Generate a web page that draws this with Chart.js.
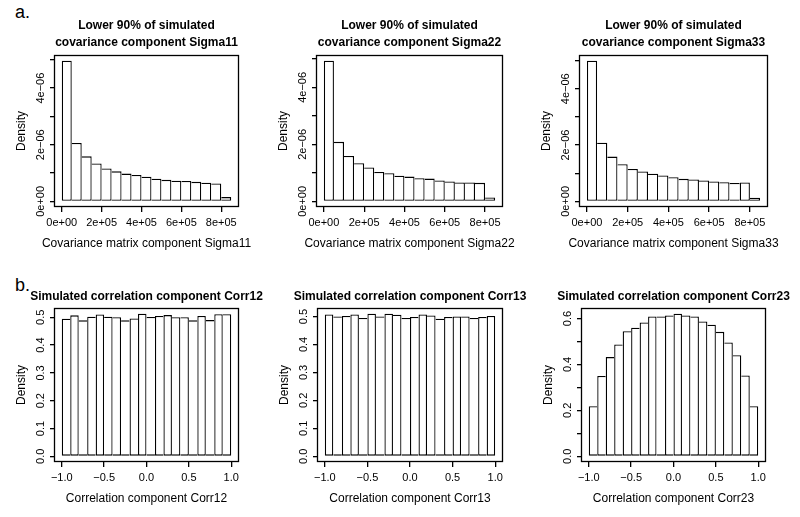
<!DOCTYPE html>
<html lang="en">
<head>
<meta charset="UTF-8">
<title>Simulated covariance and correlation components</title>
<script src="https://cdn.jsdelivr.net/npm/chart.js@4"></script>
<style>
    body { margin: 0; background: #fff; }
    #fig {
        position: relative;
        width: 800px;
        height: 517px;
        overflow: hidden;
        font-family: "Liberation Sans", Arial, sans-serif;
    }
    #fig canvas { position: absolute; }
    .tag { position: absolute; font-size: 18px; line-height: 18px; color: #000; }
</style>
</head>
<body>
<div id="fig">
    <div class="tag" style="left:15px;top:3px">a.</div>
    <div class="tag" style="left:15px;top:276px">b.</div>
</div>
<script>
// histogram bin midpoints
const sigmaMids = [25000, 75000, 125000, 175000, 225000, 275000, 325000, 375000, 425000,
    475000, 525000, 575000, 625000, 675000, 725000, 775000, 825000];
const corrMids = [-0.95, -0.85, -0.75, -0.65, -0.55, -0.45, -0.35, -0.25, -0.15, -0.05,
    0.05, 0.15, 0.25, 0.35, 0.45, 0.55, 0.65, 0.75, 0.85, 0.95];

// densities
const sigma11 = [4.97e-6, 2.06e-6, 1.59e-6, 1.34e-6, 1.16e-6, 1.06e-6, 0.98e-6, 0.93e-6, 0.87e-6,
    0.80e-6, 0.76e-6, 0.73e-6, 0.72e-6, 0.69e-6, 0.66e-6, 0.63e-6, 0.15e-6];
const sigma22 = [4.94e-6, 2.09e-6, 1.59e-6, 1.34e-6, 1.19e-6, 1.03e-6, 0.99e-6, 0.90e-6, 0.87e-6,
    0.81e-6, 0.80e-6, 0.73e-6, 0.70e-6, 0.66e-6, 0.66e-6, 0.65e-6, 0.14e-6];
const sigma33 = [5.00e-6, 2.08e-6, 1.59e-6, 1.32e-6, 1.15e-6, 1.06e-6, 0.98e-6, 0.92e-6, 0.86e-6,
    0.80e-6, 0.78e-6, 0.74e-6, 0.71e-6, 0.68e-6, 0.65e-6, 0.67e-6, 0.13e-6];
const corr12 = [0.495, 0.507, 0.489, 0.502, 0.510, 0.502, 0.500, 0.489, 0.496, 0.513,
    0.501, 0.505, 0.508, 0.500, 0.500, 0.489, 0.505, 0.490, 0.511, 0.511];
const corr13 = [0.507, 0.500, 0.502, 0.507, 0.495, 0.510, 0.500, 0.510, 0.506, 0.495,
    0.498, 0.507, 0.504, 0.492, 0.498, 0.500, 0.500, 0.495, 0.498, 0.502];
const corr23 = [0.218, 0.350, 0.432, 0.487, 0.545, 0.560, 0.583, 0.609, 0.609, 0.613,
    0.621, 0.613, 0.609, 0.587, 0.573, 0.542, 0.496, 0.440, 0.352, 0.218];

// tick positions and labels (R drops the labels that would overlap)
const sigmaXTicks = [0, 200000, 400000, 600000, 800000];
const sigmaXLabels = ['0e+00', '2e+05', '4e+05', '6e+05', '8e+05'];
const sigmaYTicks = [0, 1e-6, 2e-6, 3e-6, 4e-6, 5e-6];
const sigmaYLabels = ['0e+00', '', '2e\u221206', '', '4e\u221206', ''];
const corrXTicks = [-1, -0.5, 0, 0.5, 1];
const corrXLabels = ['\u22121.0', '\u22120.5', '0.0', '0.5', '1.0'];
const corrYTicks = [0, 0.1, 0.2, 0.3, 0.4, 0.5];
const corrYLabels = ['0.0', '0.1', '0.2', '0.3', '0.4', '0.5'];
const corr23YTicks = [0, 0.1, 0.2, 0.3, 0.4, 0.5, 0.6];
const corr23YLabels = ['0.0', '', '0.2', '', '0.4', '', '0.6'];

Chart.defaults.font.family = '"Liberation Sans", Arial, sans-serif';
Chart.defaults.color = '#000';

const LINE = 1.3; // stroke weight of bars, box and ticks

// plot box like R's box()
const boxPlugin = {
    id: 'rbox',
    afterDraw(chart) {
        const a = chart.chartArea;
        const ctx = chart.ctx;
        ctx.save();
        ctx.strokeStyle = '#000';
        ctx.lineWidth = LINE;
        ctx.strokeRect(Math.round(a.left) - 0.5, Math.round(a.top) + 0.5,
            Math.round(a.right - a.left) + 1, Math.round(a.bottom - a.top) - 1);
        ctx.restore();
    }
};

const panels = [
    { L: 55, R: 238, T: 55, B: 207, rowTop: 0, rowH: 258, titleY: 26,
      title: ['Lower 90% of simulated', 'covariance component Sigma11'],
      xTitle: 'Covariance matrix component Sigma11',
      mids: sigmaMids, vals: sigma11,
      xTicks: sigmaXTicks, xLabels: sigmaXLabels, yTicks: sigmaYTicks, yLabels: sigmaYLabels, yPad: -6 },
    { L: 317, R: 502, T: 55, B: 207, rowTop: 0, rowH: 258, titleY: 26,
      title: ['Lower 90% of simulated', 'covariance component Sigma22'],
      xTitle: 'Covariance matrix component Sigma22',
      mids: sigmaMids, vals: sigma22,
      xTicks: sigmaXTicks, xLabels: sigmaXLabels, yTicks: sigmaYTicks, yLabels: sigmaYLabels, yPad: -6 },
    { L: 580, R: 767, T: 55, B: 207, rowTop: 0, rowH: 258, titleY: 26,
      title: ['Lower 90% of simulated', 'covariance component Sigma33'],
      xTitle: 'Covariance matrix component Sigma33',
      mids: sigmaMids, vals: sigma33,
      xTicks: sigmaXTicks, xLabels: sigmaXLabels, yTicks: sigmaYTicks, yLabels: sigmaYLabels, yPad: -6 },
    { L: 55, R: 238, T: 308, B: 462, rowTop: 258, rowH: 259, titleY: 297,
      title: ['Simulated correlation component Corr12'],
      xTitle: 'Correlation component Corr12',
      mids: corrMids, vals: corr12,
      xTicks: corrXTicks, xLabels: corrXLabels, yTicks: corrYTicks, yLabels: corrYLabels, yPad: 1 },
    { L: 318, R: 502, T: 308, B: 462, rowTop: 258, rowH: 259, titleY: 297,
      title: ['Simulated correlation component Corr13'],
      xTitle: 'Correlation component Corr13',
      mids: corrMids, vals: corr13,
      xTicks: corrXTicks, xLabels: corrXLabels, yTicks: corrYTicks, yLabels: corrYLabels, yPad: 1 },
    { L: 582, R: 765, T: 308, B: 462, rowTop: 258, rowH: 259, titleY: 297,
      title: ['Simulated correlation component Corr23'],
      xTitle: 'Correlation component Corr23',
      mids: corrMids, vals: corr23,
      xTicks: corrXTicks, xLabels: corrXLabels, yTicks: corr23YTicks, yLabels: corr23YLabels, yPad: 1 }
];

const SIDE = 38;        // blank canvas margin each side
const Y_AXIS_W = 41;    // room for y ticks + "Density" (mirrored on the right)
const X_TICK_H = 24;    // room for x ticks and their labels
const X_TITLE_GAP = 37; // box bottom -> centre of x title
const TITLE_LH = 16.8;
const XT_LH = 14.4;

const fig = document.getElementById('fig');

panels.forEach(p => {
    // canvas is symmetric around the plot box so titles centre on it
    const W = (p.R - p.L) + 2 * (Y_AXIS_W + SIDE);
    const cl = p.L - Y_AXIS_W - SIDE;
    const canvas = document.createElement('canvas');
    canvas.width = W;
    canvas.height = p.rowH;
    canvas.style.left = cl + 'px';
    canvas.style.top = p.rowTop + 'px';
    fig.appendChild(canvas);

    // R style axis ranges: data range stretched by 4%
    const half = (p.mids[1] - p.mids[0]) / 2;
    const xlo = p.mids[0] - half;
    const xhi = p.mids[p.mids.length - 1] + half;
    const xpad = 0.04 * (xhi - xlo);
    const ymax = Math.max(...p.vals);

    const titleTop = p.titleY - p.rowTop - TITLE_LH / 2;
    const titleBottom = (p.T - p.rowTop) - titleTop - TITLE_LH * p.title.length;
    const xtTop = X_TITLE_GAP - X_TICK_H - XT_LH / 2;
    const padBottom = p.rowH - (p.B - p.rowTop) - X_TICK_H - xtTop - XT_LH;

    const vals = p.vals;
    new Chart(canvas, {
        type: 'bar',
        data: {
            datasets: [{
                data: p.mids.map((m, i) => ({ x: m, y: vals[i] })),
                backgroundColor: '#fff',
                borderColor: '#000',
                borderSkipped: false,
                inflateAmount: 0,
                barPercentage: 1,
                categoryPercentage: 1,
                // draw each shared edge once, from the taller bar
                borderWidth: ctx => {
                    const i = ctx.dataIndex;
                    const v = vals[i], prev = vals[i - 1], next = vals[i + 1];
                    return {
                        top: LINE, bottom: LINE,
                        left: (prev === undefined || v > prev) ? LINE : 0,
                        right: (next === undefined || v >= next) ? LINE : 0
                    };
                }
            }]
        },
        options: {
            responsive: false,
            animation: false,
            events: [],
            layout: {
                padding: { left: SIDE, right: SIDE, top: 0, bottom: padBottom }
            },
            plugins: {
                legend: { display: false },
                tooltip: { enabled: false },
                title: {
                    display: true,
                    text: p.title,
                    color: '#000',
                    font: { size: 12, weight: 'bold', lineHeight: 1.4 },
                    padding: { top: titleTop, bottom: titleBottom }
                },
                // x axis title, full canvas width so it is not squeezed
                subtitle: {
                    display: true,
                    position: 'bottom',
                    text: p.xTitle,
                    color: '#000',
                    font: { size: 12, weight: 'normal', lineHeight: 1.2 },
                    padding: { top: xtTop, bottom: 0 }
                }
            },
            scales: {
                x: {
                    type: 'linear',
                    offset: false,
                    min: xlo - xpad,
                    max: xhi + xpad,
                    afterFit: s => { s.height = X_TICK_H; },
                    afterBuildTicks: s => { s.ticks = p.xTicks.map(v => ({ value: v })); },
                    border: { display: false },
                    grid: { drawOnChartArea: false, drawTicks: true, tickLength: 5, color: '#000', lineWidth: LINE, offset: false },
                    ticks: {
                        autoSkip: false,
                        maxRotation: 0,
                        padding: 4,
                        font: { size: 11 },
                        callback: (v, i) => p.xLabels[i] ?? ''
                    }
                },
                y: {
                    type: 'linear',
                    min: -0.04 * ymax,
                    max: 1.04 * ymax,
                    afterFit: s => { s.width = Y_AXIS_W; },
                    afterBuildTicks: s => { s.ticks = p.yTicks.map(v => ({ value: v })); },
                    border: { display: false },
                    grid: { drawOnChartArea: false, drawTicks: true, tickLength: 5, color: '#000', lineWidth: LINE },
                    ticks: {
                        autoSkip: false,
                        minRotation: 90,
                        maxRotation: 90,
                        crossAlign: 'center',
                        padding: p.yPad,
                        font: { size: 11 },
                        callback: (v, i) => p.yLabels[i] ?? ''
                    },
                    title: {
                        display: true,
                        text: 'Density',
                        font: { size: 12 },
                        padding: 0
                    }
                },
                // empty mirror of the y axis so the plot box sits in the middle
                yr: {
                    type: 'linear',
                    position: 'right',
                    afterFit: s => { s.width = Y_AXIS_W; },
                    border: { display: false },
                    grid: { display: false },
                    ticks: { display: false }
                }
            }
        },
        plugins: [boxPlugin]
    });
});
</script>
</body>
</html>
